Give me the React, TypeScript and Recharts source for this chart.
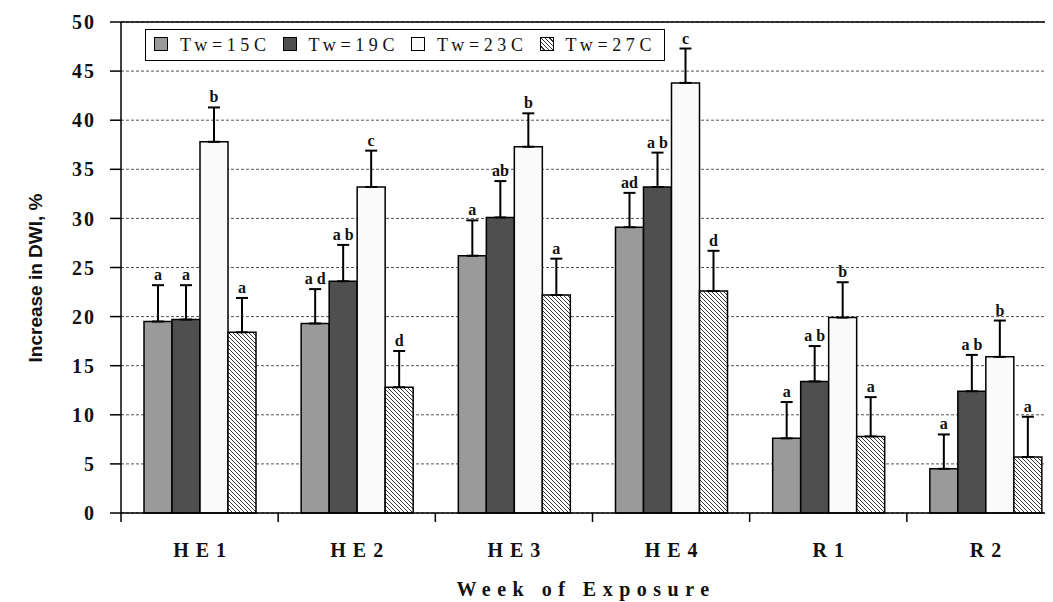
import React from 'react';
import {
  BarChart,
  Bar,
  XAxis,
  YAxis,
  CartesianGrid,
  ErrorBar,
  LabelList,
  Legend,
  ReferenceLine,
} from 'recharts';

// week of exposure
const weeks = ['HE1', 'HE2', 'HE3', 'HE4', 'R1', 'R2'];

// increase in DWI, % (means)
const tw15 = [19.5, 19.3, 26.2, 29.1, 7.6, 4.5];
const tw19 = [19.7, 23.6, 30.1, 33.2, 13.4, 12.4];
const tw23 = [37.8, 33.2, 37.3, 43.8, 19.9, 15.9];
const tw27 = [18.4, 12.8, 22.2, 22.6, 7.8, 5.7];

// upper error (SE)
const err15 = [3.7, 3.5, 3.6, 3.5, 3.7, 3.5];
const err19 = [3.5, 3.7, 3.7, 3.5, 3.6, 3.7];
const err23 = [3.5, 3.7, 3.4, 3.5, 3.6, 3.7];
const err27 = [3.5, 3.7, 3.7, 4.1, 4.0, 4.1];

// significance letters
const let15 = ['a', 'a d', 'a', 'ad', 'a', 'a'];
const let19 = ['a', 'a b', 'ab', 'a b', 'a  b', 'a b'];
const let23 = ['b', 'c', 'b', 'c', 'b', 'b'];
const let27 = ['a', 'd', 'a', 'd', 'a', 'a'];

const yTicks = [0, 5, 10, 15, 20, 25, 30, 35, 40, 45, 50];

const series = [
  { key: '15', name: 'Tw=15C', fill: '#9a9a9a', swatch: '#9a9a9a' },
  { key: '19', name: 'Tw=19C', fill: '#4f4f4f', swatch: '#4f4f4f' },
  { key: '23', name: 'Tw=23C', fill: '#fafafa', swatch: '#fafafa' },
  {
    key: '27',
    name: 'Tw=27C',
    fill: 'url(#hatch)',
    swatch: 'repeating-linear-gradient(45deg, #fff 0 2px, #333 2px 3px)',
  },
];

const data = weeks.map((w, i) => ({
  week: w,
  v15: tw15[i], e15: err15[i], l15: let15[i],
  v19: tw19[i], e19: err19[i], l19: let19[i],
  v23: tw23[i], e23: err23[i], l23: let23[i],
  v27: tw27[i], e27: err27[i], l27: let27[i],
}));

const W = 1070;
const H = 594;
const M = { top: 14, right: 14, left: 0, bottom: 0 };
const Y_W = 113;
const X_H = 89;
const STEP = (W - M.left - M.right - Y_W) / weeks.length;

const SERIF = '"Liberation Serif", "Times New Roman", serif';
const SANS = '"Liberation Sans", Arial, sans-serif';

const XTick = (props: any) => {
  const { x, y, payload } = props;
  return (
    <g>
      <line x1={x - STEP / 2} y1={y} x2={x - STEP / 2} y2={y + 9} stroke="#000" strokeWidth={1.5} />
      <text
        x={x + 3.5}
        y={y + 44}
        textAnchor="middle"
        fontFamily={SERIF}
        fontWeight="bold"
        fontSize={20}
        letterSpacing={7}
        fill="#111"
      >
        {payload.value}
      </text>
    </g>
  );
};

const LegendBox = () => (
  <div
    style={{
      border: '1.5px solid #000',
      background: '#fff',
      display: 'flex',
      alignItems: 'center',
      height: 32,
      padding: '0 8px',
      boxSizing: 'border-box',
      fontFamily: SERIF,
      fontSize: 18,
      letterSpacing: 4.6,
      color: '#111',
    }}
  >
    {series.map((s, i) => (
      <div key={s.key} style={{ display: 'flex', alignItems: 'center', marginRight: i < 3 ? 12 : 0 }}>
        <span
          style={{
            width: 12,
            height: 12,
            border: '1px solid #000',
            background: s.swatch,
            display: 'inline-block',
            marginRight: 12,
            marginTop: -3,
          }}
        />
        <span>{s.name}</span>
      </div>
    ))}
  </div>
);

export default function App() {
  return (
    <div style={{ width: 1045, height: H, overflow: 'hidden', position: 'relative' }}>
      <BarChart width={W} height={H} data={data} margin={M} barSize={28} barGap={0}>
        <defs>
          <pattern id="hatch" patternUnits="userSpaceOnUse" width={4} height={4}>
            <rect width={4} height={4} fill="#fff" />
            <path d="M0,0 L4,4 M-1,3 L1,5 M3,-1 L5,1" stroke="#222" strokeWidth={0.9} />
          </pattern>
        </defs>
        <CartesianGrid vertical={false} stroke="#555" strokeDasharray="3 2" />
        <XAxis
          dataKey="week"
          height={X_H}
          axisLine={{ stroke: '#000', strokeWidth: 1.5 }}
          tickLine={false}
          tickSize={0}
          tickMargin={0}
          tick={<XTick />}
          interval={0}
          label={{
            content: () => (
              <text
                x={578}
                y={588}
                textAnchor="middle"
                fontFamily={SERIF}
                fontWeight="bold"
                fontSize={20}
                letterSpacing={6.5}
                fill="#111"
              >
                Week of Exposure
              </text>
            ),
          }}
        />
        <YAxis
          width={Y_W}
          domain={[0, 50]}
          ticks={yTicks}
          interval={0}
          axisLine={{ stroke: '#000', strokeWidth: 1.5 }}
          tickLine={{ stroke: '#000', strokeWidth: 1.5 }}
          tickSize={11}
          tickMargin={14}
          tick={{ fontFamily: SERIF, fontWeight: 'bold', fontSize: 20, fill: '#111', letterSpacing: 2 }}
          label={{
            content: () => (
              <text
                x={27}
                y={270}
                transform="rotate(-90 27 270)"
                textAnchor="middle"
                dominantBaseline="central"
                fontFamily={SANS}
                fontWeight="bold"
                fontSize={19}
                fill="#111"
              >
                Increase in DWI, %
              </text>
            ),
          }}
        />
        <ReferenceLine y={50} stroke="#000" strokeWidth={1.5} />
        <Legend
          layout="horizontal"
          verticalAlign="middle"
          align="center"
          content={<LegendBox />}
          wrapperStyle={{ left: 137, top: 21, width: 'auto', height: 'auto' }}
        />
        {series.flatMap((s) => [
          <Bar
            key={'v' + s.key}
            dataKey={'v' + s.key}
            stackId={'s' + s.key}
            fill={s.fill}
            stroke="#000"
            strokeWidth={1.5}
            isAnimationActive={false}
          >
            <ErrorBar
              dataKey={(d: any) => [0, d['e' + s.key]]}
              width={6}
              stroke="#000"
              strokeWidth={2}
              direction="y"
            />
          </Bar>,
          <Bar
            key={'e' + s.key}
            dataKey={'e' + s.key}
            stackId={'s' + s.key}
            fill="none"
            stroke="none"
            isAnimationActive={false}
          >
            <LabelList
              dataKey={'l' + s.key}
              position="top"
              offset={5}
              fontFamily={SERIF}
              fontWeight="bold"
              fontSize={16}
              fill="#111"
            />
          </Bar>,
        ])}
      </BarChart>
    </div>
  );
}
